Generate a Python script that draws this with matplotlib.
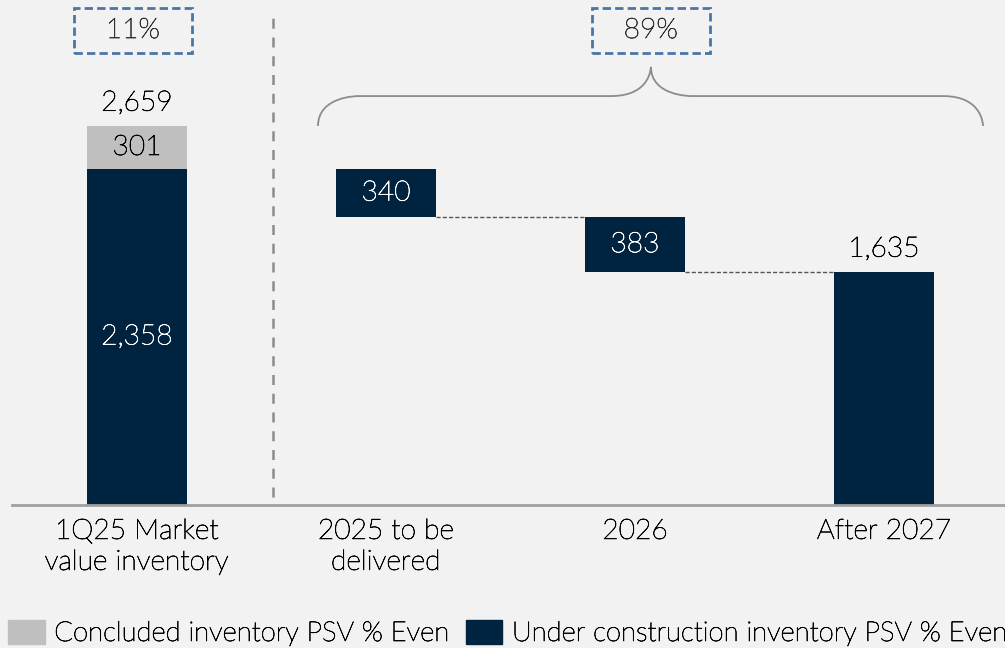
import matplotlib
matplotlib.use("Agg")
import matplotlib.pyplot as plt
import matplotlib.patheffects as pe
from matplotlib.patches import Rectangle, Patch
from matplotlib.path import Path
from matplotlib.patches import PathPatch

# Data
categories = ["1Q25 Market\nvalue inventory", "2025 to be\ndelivered", "2026", "After 2027"]
concluded = 301
under_construction = 2358
deliveries = [340, 383, 1635]
total_label = "2,659"
shares = ["11%", "89%"]
legend_labels = ["Concluded inventory PSV % Even", "Under construction inventory PSV % Even"]

NAVY = "#00233f"
GRAY = "#bfbfbf"
BG = "#f2f2f2"
BLUE = "#4a76a6"
TXT = "#000000"

plt.rcParams["font.family"] = ["Lato", "DejaVu Sans"]
plt.rcParams["font.weight"] = "light"
FS = 20.3


def fx(color):
    # thicken the light strokes a little
    return [pe.withStroke(linewidth=0.5, foreground=color)]


fig = plt.figure(figsize=(10.05, 6.48), dpi=100, facecolor=BG)
ax = fig.add_axes([12 / 1005, 143 / 648, 993 / 1005, 505 / 648])
ax.set_facecolor(BG)

W = 0.40
total = concluded + under_construction

# first stacked bar
ax.bar(0, under_construction, W, color=NAVY)
ax.bar(0, concluded, W, bottom=under_construction, color=GRAY)
ax.text(0, under_construction / 2, f"{under_construction:,}", ha="center", va="center",
        color="white", fontsize=FS, path_effects=fx("white"))
ax.text(0, under_construction + concluded / 2, f"{concluded:,}", ha="center", va="center",
        color=TXT, fontsize=FS, path_effects=fx(TXT))
ax.text(0, total + 160, total_label, ha="center", va="center", color=TXT, fontsize=FS,
        path_effects=fx(TXT))

# waterfall
level = under_construction
prev_right = None
prev_level = None
for i, v in enumerate(deliveries):
    x = i + 1
    last = i == len(deliveries) - 1
    bottom = 0 if last else level - v
    ax.bar(x, v, W, bottom=bottom, color=NAVY)
    if last:
        ax.text(x, v + 160, f"{v:,}", ha="center", va="center", color=TXT, fontsize=FS,
                path_effects=fx(TXT))
    else:
        ax.text(x, bottom + v / 2, f"{v:,}", ha="center", va="center", color="white",
                fontsize=FS, path_effects=fx("white"))
    if prev_right is not None:
        ax.plot([prev_right, x - W / 2], [prev_level, prev_level], color="#555555",
                lw=1, ls=(0, (3, 1.5)))
    prev_right = x + W / 2
    prev_level = bottom if not last else v
    level = bottom

# vertical separator
ax.plot([0.546, 0.546], [55, 3430], color="#8c8c8c", lw=1.8, ls=(0, (4, 3.5)))

# share boxes
box_w, box_h = 0.474, 316
for cx, s in zip([-0.016, 2.064], shares):
    ax.add_patch(Rectangle((cx - box_w / 2, 3171), box_w, box_h, fill=False,
                           ec=BLUE, lw=2, ls=(0, (3, 1.5))))
    ax.text(cx, 3171 + box_h / 2, s, ha="center", va="center", color="#333333", fontsize=FS,
            path_effects=fx("#333333"))

# brace
x0, x1, xm = 0.727, 3.398, 2.064
y0, y1, y2 = total, total + 210, total + 415
r = 0.16
verts = [
    (x0, y0), (x0, y1), (x0 + r, y1), (x0 + r, y1),
    (xm - r, y1),
    (xm, y1), (xm, y2), (xm, y2),
    (xm, y1), (xm + r, y1), (xm + r, y1),
    (x1 - r, y1),
    (x1, y1), (x1, y0), (x1, y0),
]
codes = [Path.MOVETO, Path.CURVE4, Path.CURVE4, Path.CURVE4,
         Path.LINETO,
         Path.CURVE4, Path.CURVE4, Path.CURVE4,
         Path.CURVE4, Path.CURVE4, Path.CURVE4,
         Path.LINETO,
         Path.CURVE4, Path.CURVE4, Path.CURVE4]
ax.add_patch(PathPatch(Path(verts, codes), fill=False, ec="#8c8c8c", lw=1.3))

ax.set_xlim(-0.502, 3.486)
ax.set_ylim(0, 3543)
ax.set_xticks(range(len(categories)))
ax.set_xticklabels(categories, fontsize=FS, color=TXT, linespacing=1.3)
for t in ax.get_xticklabels():
    t.set_path_effects(fx(TXT))
ax.tick_params(axis="x", length=0, pad=10)
ax.set_yticks([])
for s in ["top", "right", "left"]:
    ax.spines[s].set_visible(False)
ax.spines["bottom"].set_color("#a0a0a0")
ax.spines["bottom"].set_linewidth(2)

handles = [Patch(color=GRAY), Patch(color=NAVY)]
leg = fig.legend(handles, legend_labels, loc="lower left", bbox_to_anchor=(8 / 1005, 2 / 648),
                 ncol=2, frameon=False, fontsize=19.8, handlelength=1.33, handleheight=0.97,
                 handletextpad=0.35, columnspacing=0.6, labelcolor=TXT,
                 borderpad=0, borderaxespad=0)
for t in leg.get_texts():
    t.set_path_effects(fx(TXT))

fig.savefig("out.png", dpi=100, facecolor=BG)
